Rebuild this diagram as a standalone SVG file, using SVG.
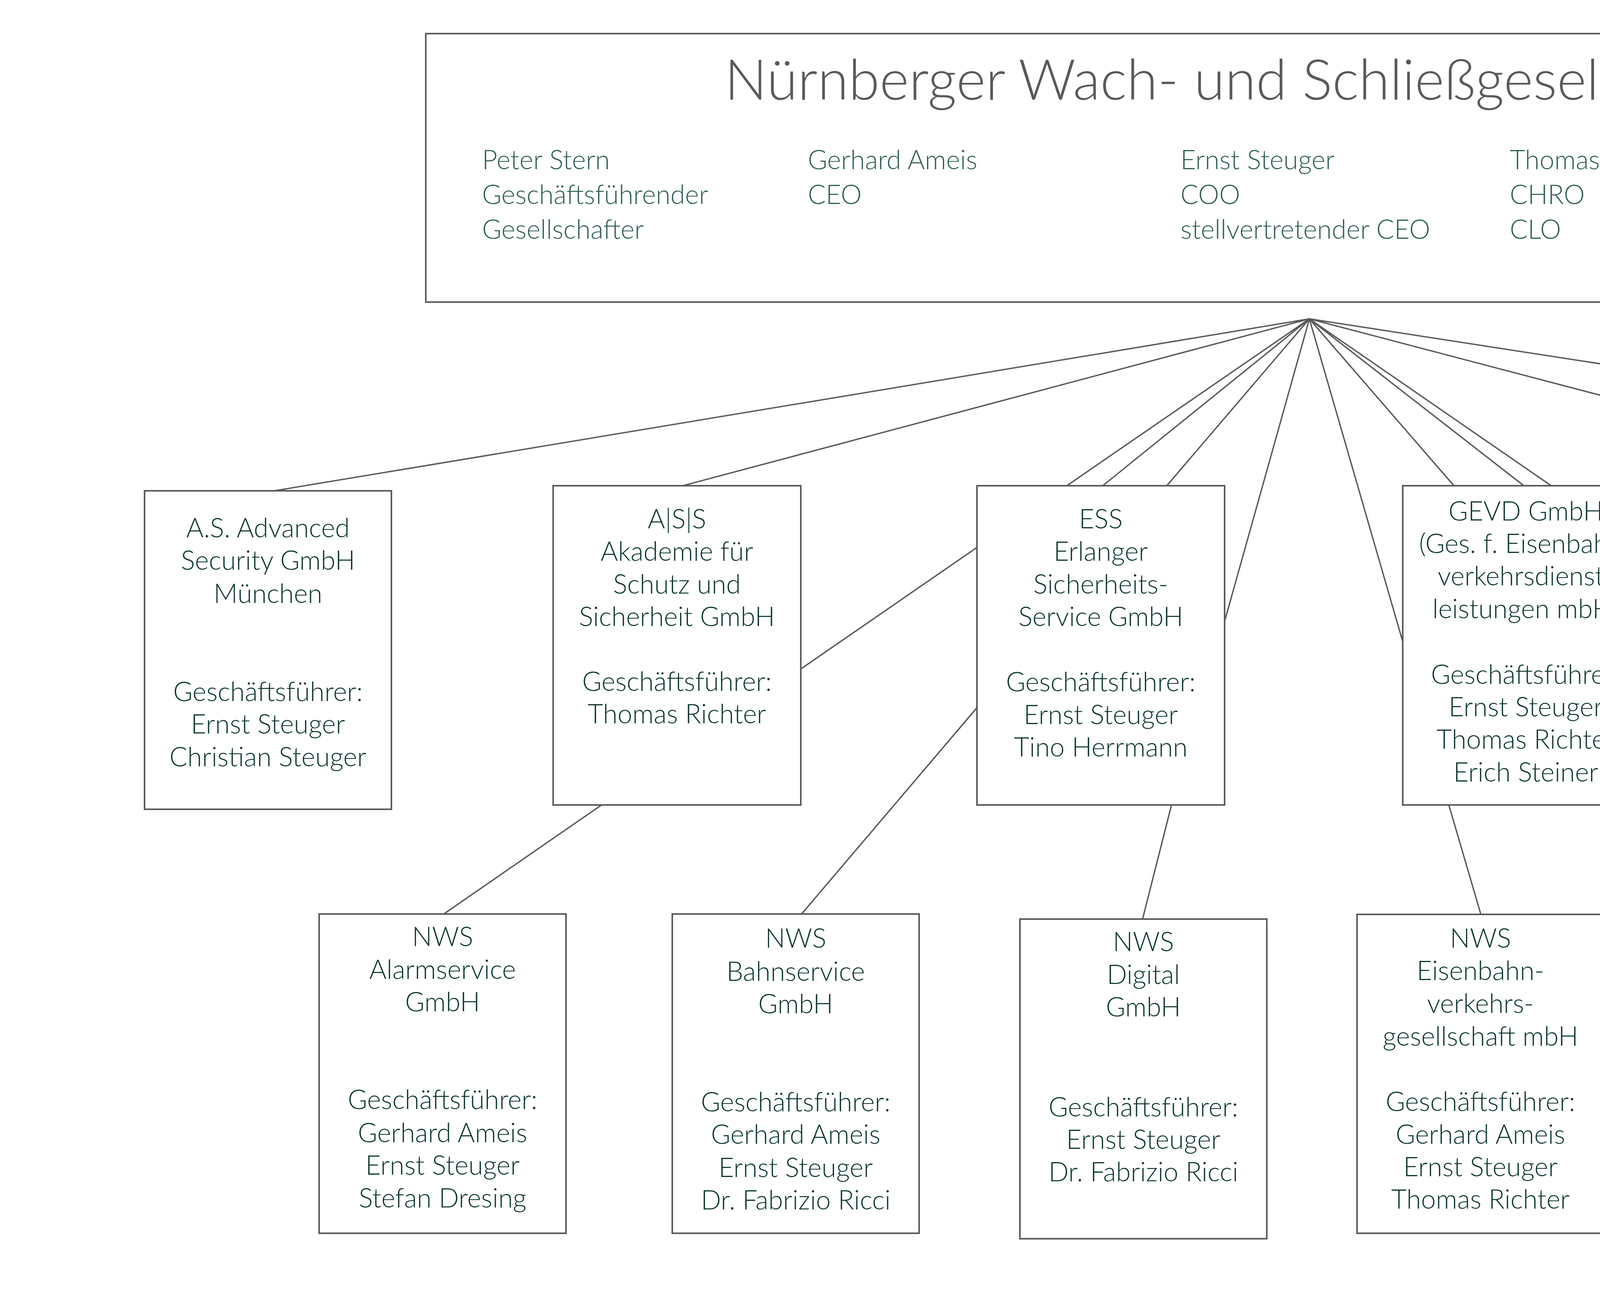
<svg xmlns="http://www.w3.org/2000/svg" width="7007" height="3314" viewBox="0 0 7007 3314">
<style>
.bg{fill:#ffffff}
.box{fill:#ffffff;stroke:#595959;stroke-width:4}
.c{stroke:#595959;stroke-width:3.5;fill:none;stroke-linecap:round}
.f{font-family:Lato,"Open Sans","Liberation Sans",sans-serif;font-weight:300}
.t{font-size:68px;fill:#0c3630;text-anchor:middle}
.p{font-size:68px;fill:#2f5e56}
.title{font-size:144px;fill:#595959;text-anchor:middle}
.pct{font-size:50px;fill:#1f1f1f}
.sgn{font-size:82px;fill:#0c3630}
</style>
<rect class="bg" x="0" y="0" width="7007" height="3314"/>
<g id="connectors">
<line class="c" x1="3352" y1="816" x2="702" y2="1256"/>
<line class="c" x1="3352" y1="816" x2="1748" y2="1243"/>
<line class="c" x1="3352" y1="816" x2="2731" y2="1243"/>
<line class="c" x1="3352" y1="816" x2="2823" y2="1243"/>
<line class="c" x1="3352" y1="816" x2="2987" y2="1243"/>
<line class="c" x1="3352" y1="816" x2="3135" y2="1590"/>
<line class="c" x1="3352" y1="816" x2="3591" y2="1642"/>
<line class="c" x1="3352" y1="816" x2="3722" y2="1243"/>
<line class="c" x1="3352" y1="816" x2="3901" y2="1243"/>
<line class="c" x1="3352" y1="816" x2="3971" y2="1243"/>
<line class="c" x1="3352" y1="816" x2="4983" y2="1244"/>
<line class="c" x1="3352" y1="816" x2="6035" y2="1230"/>
<line class="c" x1="2501" y1="1401" x2="2050" y2="1712"/>
<line class="c" x1="2501" y1="1811" x2="2052" y2="2339"/>
<line class="c" x1="1540" y1="2060" x2="1136" y2="2339"/>
<line class="c" x1="2999" y1="2060" x2="2925" y2="2352"/>
<line class="c" x1="3709" y1="2060" x2="3791" y2="2340"/>
<line class="c" x1="4222" y1="1412" x2="4679" y2="1725"/>
<line class="c" x1="4222" y1="1817" x2="4679" y2="2340"/>
<line class="c" x1="5168" y1="2061" x2="5570" y2="2339"/>
</g>
<g id="nwsg">
<rect class="box" x="1090" y="86" width="4549" height="687"/>
<text class="f title" x="3347" y="255" textLength="2984">Nürnberger Wach- und Schließgesellschaft mbH</text>
<text class="f p"><tspan x="1234" y="433">Peter Stern</tspan><tspan x="1234" y="522">Geschäftsführender</tspan><tspan x="1234" y="611">Gesellschafter</tspan></text>
<text class="f p"><tspan x="2068" y="433">Gerhard Ameis</tspan><tspan x="2068" y="522">CEO</tspan></text>
<text class="f p"><tspan x="3022" y="433">Ernst Steuger</tspan><tspan x="3022" y="522">COO</tspan><tspan x="3022" y="611">stellvertretender CEO</tspan></text>
<text class="f p"><tspan x="3865" y="433">Thomas Richter</tspan><tspan x="3865" y="522">CHRO</tspan><tspan x="3865" y="611">CLO</tspan></text>
<text class="f p"><tspan x="4792" y="433">Florian Zachmayer</tspan><tspan x="4792" y="522">CFO</tspan></text>
</g>
<g id="sgn">
<text class="f pct" x="5797" y="675">49%</text>
<rect x="5775" y="729" width="1145" height="303" fill="#f7f7f7"/>
<text class="f sgn" x="5823" y="878" textLength="1000">SGN Sicherheitsgesellschaft</text>
<text class="f sgn" x="5823" y="969" textLength="1054">am Flughafen Nürnberg mbH</text>
</g>
<g id="as">
<rect class="box" x="370" y="1256" width="632" height="815"/>
<text class="f t"><tspan x="686" y="1375">A.S. Advanced</tspan><tspan x="686" y="1458">Security GmbH</tspan><tspan x="686" y="1543">München</tspan><tspan x="686" y="1794">Geschäftsführer:</tspan><tspan x="686" y="1877">Ernst Steuger</tspan><tspan x="686" y="1961">Christian Steuger</tspan></text>
</g>
<g id="ass">
<rect class="box" x="1416" y="1243" width="634" height="817"/>
<text class="f t"><tspan x="1733" y="1352">A|S|S</tspan><tspan x="1733" y="1435">Akademie für</tspan><tspan x="1733" y="1519">Schutz und</tspan><tspan x="1733" y="1602">Sicherheit GmbH</tspan><tspan x="1733" y="1768">Geschäftsführer:</tspan><tspan x="1733" y="1851">Thomas Richter</tspan></text>
</g>
<g id="ess">
<rect class="box" x="2501" y="1243" width="634" height="817"/>
<text class="f t"><tspan x="2818" y="1352">ESS</tspan><tspan x="2818" y="1435">Erlanger</tspan><tspan x="2818" y="1519">Sicherheits-</tspan><tspan x="2818" y="1602">Service GmbH</tspan><tspan x="2818" y="1769">Geschäftsführer:</tspan><tspan x="2818" y="1853">Ernst Steuger</tspan><tspan x="2818" y="1936">Tino Herrmann</tspan></text>
</g>
<g id="gevd">
<rect class="box" x="3591" y="1243" width="631" height="817"/>
<text class="f t"><tspan x="3906" y="1332">GEVD GmbH</tspan><tspan x="3906" y="1415">(Ges. f. Eisenbahn-</tspan><tspan x="3906" y="1498">verkehrsdienst-</tspan><tspan x="3906" y="1582">leistungen mbH)</tspan><tspan x="3906" y="1750">Geschäftsführer:</tspan><tspan x="3906" y="1833">Ernst Steuger</tspan><tspan x="3906" y="1916">Thomas Richter</tspan><tspan x="3906" y="2000">Erich Steiner</tspan></text>
</g>
<g id="gsb">
<rect class="box" x="4679" y="1244" width="633" height="817"/>
<text class="f t"><tspan x="4995" y="1343">GSB</tspan><tspan x="4995" y="1427">(Ges. für Sicher-</tspan><tspan x="4995" y="1510">heits- und Bahn-</tspan><tspan x="4995" y="1593">dienstleistungen</tspan><tspan x="4995" y="1676">mbH Austria)</tspan><tspan x="4995" y="1761">Geschäftsführer:</tspan><tspan x="4995" y="1843">Ernst Steuger</tspan><tspan x="4995" y="1926">Erich Steiner</tspan></text>
</g>
<g id="kosib">
<rect class="box" x="5717" y="1230" width="633" height="816"/>
<text class="f t"><tspan x="6033" y="1323">KoSiB -</tspan><tspan x="6033" y="1407">Kompetenz-</tspan><tspan x="6033" y="1490">zentrum für Sicher-</tspan><tspan x="6033" y="1573">heit in Bayern</tspan><tspan x="6033" y="1656">GmbH</tspan><tspan x="6033" y="1740">Geschäftsführer:</tspan><tspan x="6033" y="1823">Gerhard Ameis</tspan><tspan x="6033" y="1906">Stefan Dresing</tspan></text>
</g>
<g id="nws-alarm">
<rect class="box" x="817" y="2339" width="632" height="817"/>
<text class="f t"><tspan x="1133" y="2421">NWS</tspan><tspan x="1133" y="2505">Alarmservice</tspan><tspan x="1133" y="2588">GmbH</tspan><tspan x="1133" y="2838">Geschäftsführer:</tspan><tspan x="1133" y="2923">Gerhard Ameis</tspan><tspan x="1133" y="3006">Ernst Steuger</tspan><tspan x="1133" y="3090">Stefan Dresing</tspan></text>
</g>
<g id="nws-bahn">
<rect class="box" x="1721" y="2339" width="632" height="817"/>
<text class="f t"><tspan x="2037" y="2425">NWS</tspan><tspan x="2037" y="2510">Bahnservice</tspan><tspan x="2037" y="2593">GmbH</tspan><tspan x="2037" y="2844">Geschäftsführer:</tspan><tspan x="2037" y="2927">Gerhard Ameis</tspan><tspan x="2037" y="3012">Ernst Steuger</tspan><tspan x="2037" y="3095">Dr. Fabrizio Ricci</tspan></text>
</g>
<g id="nws-digital">
<rect class="box" x="2611" y="2352" width="632" height="818"/>
<text class="f t"><tspan x="2927" y="2434">NWS</tspan><tspan x="2927" y="2518">Digital</tspan><tspan x="2927" y="2601">GmbH</tspan><tspan x="2927" y="2857">Geschäftsführer:</tspan><tspan x="2927" y="2940">Ernst Steuger</tspan><tspan x="2927" y="3023">Dr. Fabrizio Ricci</tspan></text>
</g>
<g id="nws-eisenbahn">
<rect class="box" x="3474" y="2340" width="632" height="816"/>
<text class="f t"><tspan x="3790" y="2425">NWS</tspan><tspan x="3790" y="2508">Eisenbahn-</tspan><tspan x="3790" y="2592">verkehrs-</tspan><tspan x="3790" y="2676">gesellschaft mbH</tspan><tspan x="3790" y="2843">Geschäftsführer:</tspan><tspan x="3790" y="2927">Gerhard Ameis</tspan><tspan x="3790" y="3010">Ernst Steuger</tspan><tspan x="3790" y="3093">Thomas Richter</tspan></text>
</g>
<g id="nws-feuerwehr">
<rect class="box" x="4361" y="2340" width="632" height="816"/>
<text class="f t"><tspan x="4677" y="2427">NWS</tspan><tspan x="4677" y="2511">Feuerwehrschule</tspan><tspan x="4677" y="2594">GmbH</tspan><tspan x="4677" y="2846">Geschäftsführer:</tspan><tspan x="4677" y="2929">Ernst Steuger</tspan><tspan x="4677" y="3012">Christian Steuger</tspan></text>
</g>
<g id="nws-sicherheit">
<rect class="box" x="5255" y="2339" width="630" height="817"/>
<text class="f t"><tspan x="5570" y="2422">NWS</tspan><tspan x="5570" y="2506">Sicherheits-</tspan><tspan x="5570" y="2591">service GmbH</tspan><tspan x="5570" y="2840">Geschäftsführer:</tspan><tspan x="5570" y="2924">Gerhard Ameis</tspan><tspan x="5570" y="3009">Ernst Steuger</tspan><tspan x="5570" y="3092">Stefan Dresing</tspan></text>
</g>
</svg>
